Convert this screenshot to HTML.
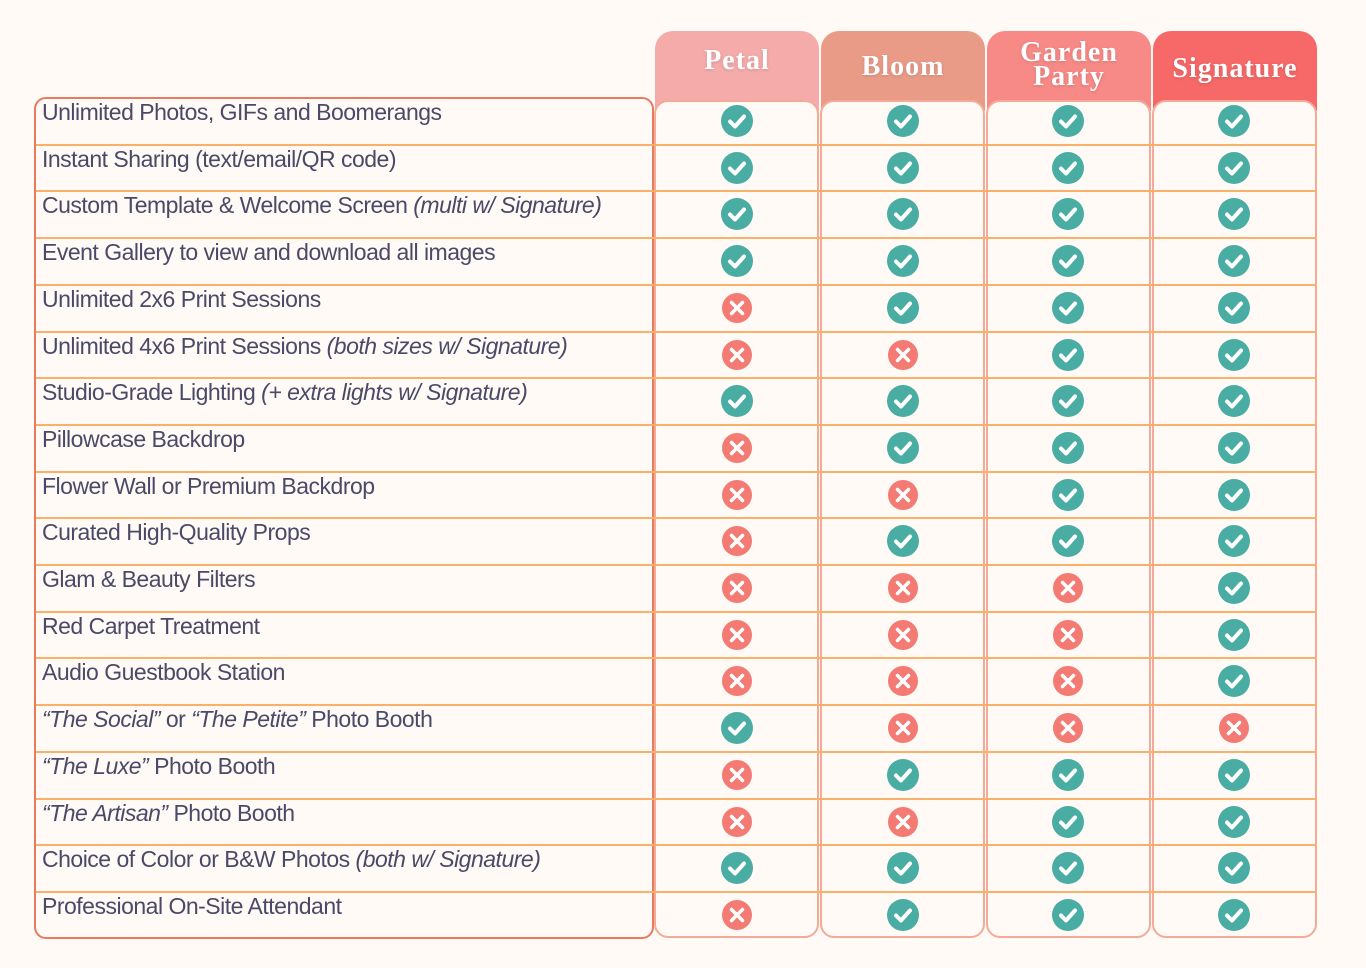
<!DOCTYPE html>
<html><head><meta charset="utf-8"><style>
body{margin:0;width:1366px;height:968px;background:#fffaf5;position:relative;overflow:hidden;font-family:"Liberation Sans",sans-serif}
.abs{position:absolute}
.hdr{position:absolute;top:31px;height:80px;border-radius:18px 18px 0 0;color:#fff;font-family:"Liberation Serif",serif;font-weight:bold;font-size:28px;text-align:center;letter-spacing:1px;text-shadow:0 1px 3px rgba(0,0,0,.15);box-sizing:border-box}
.col{position:absolute;top:100px;height:838px;border:2px solid #f3ab98;border-radius:14px;box-sizing:border-box;background:#fffaf5}
.lbox{position:absolute;left:34px;top:97px;width:620px;height:842px;border:2px solid #e9795f;border-radius:12px;box-sizing:border-box}
.line{position:absolute;height:2px;background:#fbb06a}
.lbl{position:absolute;left:42px;font-size:23px;color:#4a4a68;white-space:nowrap;letter-spacing:-0.5px}
.lbl i{font-style:italic}
</style></head><body>
<div class="hdr" style="left:655px;width:164px;background:#f4abaa;padding-top:14px">Petal</div>
<div class="hdr" style="left:821px;width:164px;background:#ea9b88;padding-top:20px">Bloom</div>
<div class="hdr" style="left:987px;width:164px;background:#f78a86;padding-top:10px;line-height:24px">Garden<br>Party</div>
<div class="hdr" style="left:1153px;width:164px;background:#f76868;padding-top:22px">Signature</div>
<div class="col" style="left:654px;width:165px"></div>
<div class="col" style="left:820px;width:165px"></div>
<div class="col" style="left:986px;width:165px"></div>
<div class="col" style="left:1152px;width:165px"></div>
<div class="lbox"></div>
<div id="root"></div>
<script>
const features=["Unlimited Photos, GIFs and Boomerangs","Instant Sharing (text/email/QR code)","Custom Template &amp; Welcome Screen <i>(multi w/ Signature)</i>","Event Gallery to view and download all images","Unlimited 2x6 Print Sessions","Unlimited 4x6 Print Sessions <i>(both sizes w/ Signature)</i>","Studio-Grade Lighting <i>(+ extra lights w/ Signature)</i>","Pillowcase Backdrop","Flower Wall or Premium Backdrop","Curated High-Quality Props","Glam &amp; Beauty Filters","Red Carpet Treatment","Audio Guestbook Station","<i>“The Social”</i> or <i>“The Petite”</i> Photo Booth","<i>“The Luxe”</i> Photo Booth","<i>“The Artisan”</i> Photo Booth","Choice of Color or B&amp;W Photos <i>(both w/ Signature)</i>","Professional On-Site Attendant"];
const petal=[1,1,1,1,0,0,1,0,0,0,0,0,0,1,0,0,1,0];
const bloom=[1,1,1,1,1,0,1,1,0,1,0,0,0,0,1,0,1,1];
const garden=[1,1,1,1,1,1,1,1,1,1,0,0,0,0,1,1,1,1];
const signature=[1,1,1,1,1,1,1,1,1,1,1,1,1,0,1,1,1,1];
const root=document.getElementById('root');
const top0=98,rowH=46.7,cx=[737,903,1068,1234],plans=[petal,bloom,garden,signature],pn=['petal','bloom','garden-party','signature'];
features.forEach((f,i)=>{
 const y=top0+i*rowH;
 const l=document.createElement('div');l.className='lbl';l.style.top=(y+1)+'px';l.innerHTML=f;
 
 
 root.appendChild(l);
 if(i>0){const ln=document.createElement('div');ln.className='line';ln.style.left='36px';ln.style.width='1280px';ln.style.top=(y-1)+'px';
 
 
 root.appendChild(ln);}
 plans.forEach((p,j)=>{
  const ok=p[i];
  const d=document.createElement('div');d.className='abs';
  d.style.left=(cx[j]-16)+'px';d.style.top=(y+23-16)+'px';d.style.width='32px';d.style.height='32px';
  d.innerHTML=ok?'<svg width="32" height="32"><circle cx="16" cy="16" r="16" fill="#4aada3"/><path d="M9 16.5l5 5 9-10" stroke="#fff" stroke-width="4" fill="none" stroke-linecap="round" stroke-linejoin="round"/></svg>'
  :'<svg width="32" height="32"><circle cx="16" cy="16" r="15" fill="#f47a74"/><path d="M10.5 10.5l11 11M21.5 10.5l-11 11" stroke="#fff" stroke-width="3.5" stroke-linecap="round"/></svg>';
  
  
  root.appendChild(d);
 });
});
</script>
</body></html>
